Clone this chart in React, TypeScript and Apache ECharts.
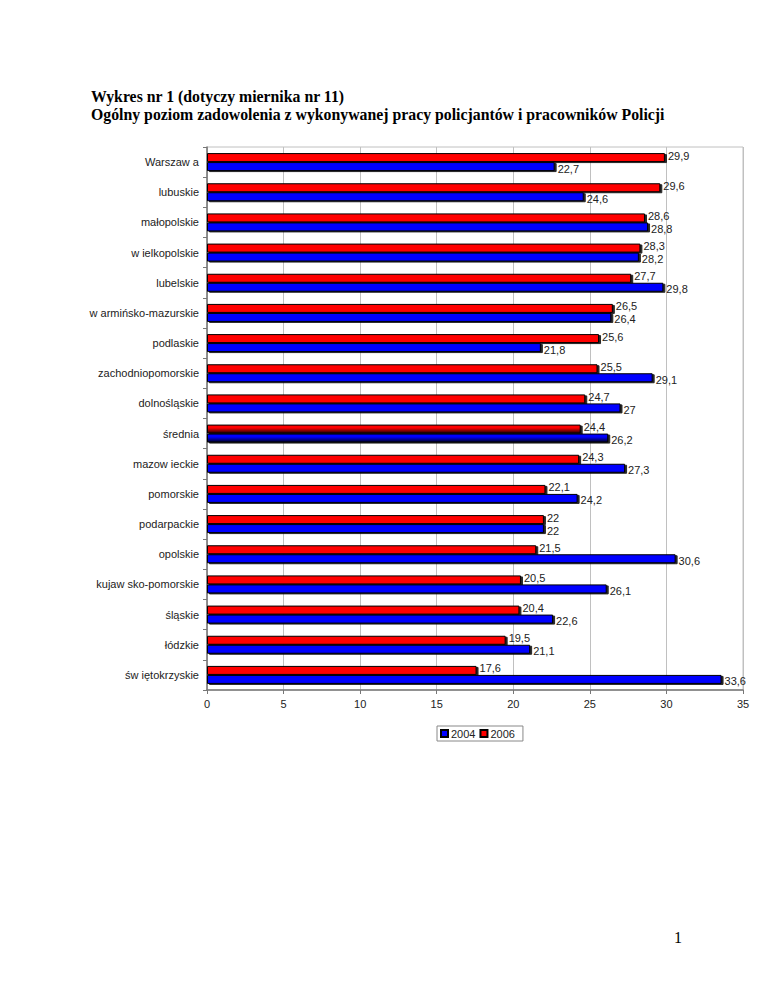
import React, { useEffect, useRef } from "react";
import * as echarts from "echarts";

const categories = [
  "Warszaw a",
  "lubuskie",
  "małopolskie",
  "w ielkopolskie",
  "lubelskie",
  "w armińsko-mazurskie",
  "podlaskie",
  "zachodniopomorskie",
  "dolnośląskie",
  "średnia",
  "mazow ieckie",
  "pomorskie",
  "podarpackie",
  "opolskie",
  "kujaw sko-pomorskie",
  "śląskie",
  "łódzkie",
  "św iętokrzyskie",
];
const values2006 = [29.9, 29.6, 28.6, 28.3, 27.7, 26.5, 25.6, 25.5, 24.7, 24.4, 24.3, 22.1, 22, 21.5, 20.5, 20.4, 19.5, 17.6];
const values2004 = [22.7, 24.6, 28.8, 28.2, 29.8, 26.4, 21.8, 29.1, 27, 26.2, 27.3, 24.2, 22, 30.6, 26.1, 22.6, 21.1, 33.6];
const xTicks = [0, 5, 10, 15, 20, 25, 30, 35];
const titleLines = [
  "Wykres nr 1 (dotyczy miernika nr 11)",
  "Ogólny poziom zadowolenia z wykonywanej pracy policjantów i pracowników Policji",
];
const pageNumber = "1";
const averageName = "średnia";

const FONT = "'Liberation Sans', Arial, sans-serif";
const SERIF = "'Liberation Serif', 'Times New Roman', serif";

function fmt(v: number) {
  return String(v).replace(".", ",");
}

export default function App() {
  const ref = useRef<HTMLDivElement>(null);
  useEffect(() => {
    if (!ref.current) return;
    const chart = echarts.init(ref.current, undefined, { renderer: "svg" });
    const mk = (vals: number[], color: string, dark: string) =>
      vals.map((v, i) =>
        categories[i] === averageName
          ? {
              value: v,
              itemStyle: {
                color: new echarts.graphic.LinearGradient(0, 0, 0, 1, [
                  { offset: 0, color },
                  { offset: 0.35, color },
                  { offset: 1, color: dark },
                ]),
              },
            }
          : v
      );
    const barStyle = {
      borderColor: "#000",
      borderWidth: 1,
      shadowColor: "rgba(0,0,0,0.85)",
      shadowOffsetX: 2,
      shadowOffsetY: 1,
      shadowBlur: 0,
    };
    const label = (dy: number) => ({
      show: true,
      position: "right" as const,
      distance: 3,
      offset: [0, dy],
      color: "#222",
      fontFamily: FONT,
      fontSize: 11,
      formatter: (p: any) => fmt(p.value),
    });
    chart.setOption({
      animation: false,
      textStyle: { fontFamily: FONT },
      grid: { left: 207, right: 25, top: 147, bottom: 304, show: true, borderColor: "#c0c0c0", borderWidth: 1 },
      legend: {
        data: ["2004", "2006"],
        left: 437,
        top: 726,
        itemWidth: 7,
        itemHeight: 7,
        itemGap: 4,
        padding: [2, 8, 2, 3],
        borderColor: "#888",
        borderWidth: 1,
        textStyle: { fontFamily: FONT, fontSize: 11, color: "#222", padding: [0, 0, 0, -2] },
        icon: "rect",
      },
      xAxis: {
        type: "value",
        min: 0,
        max: 35,
        interval: 5,
        axisLine: { show: true, lineStyle: { color: "#777", width: 1.5 } },
        axisTick: { show: true, length: 4, lineStyle: { color: "#777" } },
        axisLabel: { color: "#222", fontSize: 11, fontFamily: FONT, margin: 8, formatter: (v: number) => (xTicks.includes(v) ? String(v) : "") },
        splitLine: { show: true, lineStyle: { color: "#c0c0c0", width: 1 } },
      },
      yAxis: {
        type: "category",
        data: categories,
        inverse: true,
        axisLine: { show: true, lineStyle: { color: "#777", width: 1.5 } },
        axisTick: { show: true, length: 4, lineStyle: { color: "#777" } },
        axisLabel: { color: "#222", fontSize: 11, fontFamily: FONT, margin: 8 },
      },
      series: [
        {
          name: "2006",
          type: "bar",
          data: mk(values2006, "#ff0000", "#200000"),
          itemStyle: { color: "#ff0000", ...barStyle },
          barWidth: 9,
          barGap: "0%",
          label: label(-2),
        },
        {
          name: "2004",
          type: "bar",
          data: mk(values2004, "#0000ff", "#000020"),
          itemStyle: { color: "#0000ff", ...barStyle },
          barWidth: 9,
          barGap: "0%",
          label: label(2),
        },
      ],
      graphic: [
        { type: "text", left: 91, top: 88, style: { text: titleLines[0], font: `bold 15.8px ${SERIF}`, fill: "#000" } },
        { type: "text", left: 91, top: 106, style: { text: titleLines[1], font: `bold 15.8px ${SERIF}`, fill: "#000" } },
        { type: "text", left: 674, top: 929, style: { text: pageNumber, font: `16px ${SERIF}`, fill: "#000" } },
      ],
    });
    return () => chart.dispose();
  }, []);
  return <div ref={ref} style={{ position: "absolute", left: 0, top: 0, width: 768, height: 994, background: "#fff" }} />;
}
